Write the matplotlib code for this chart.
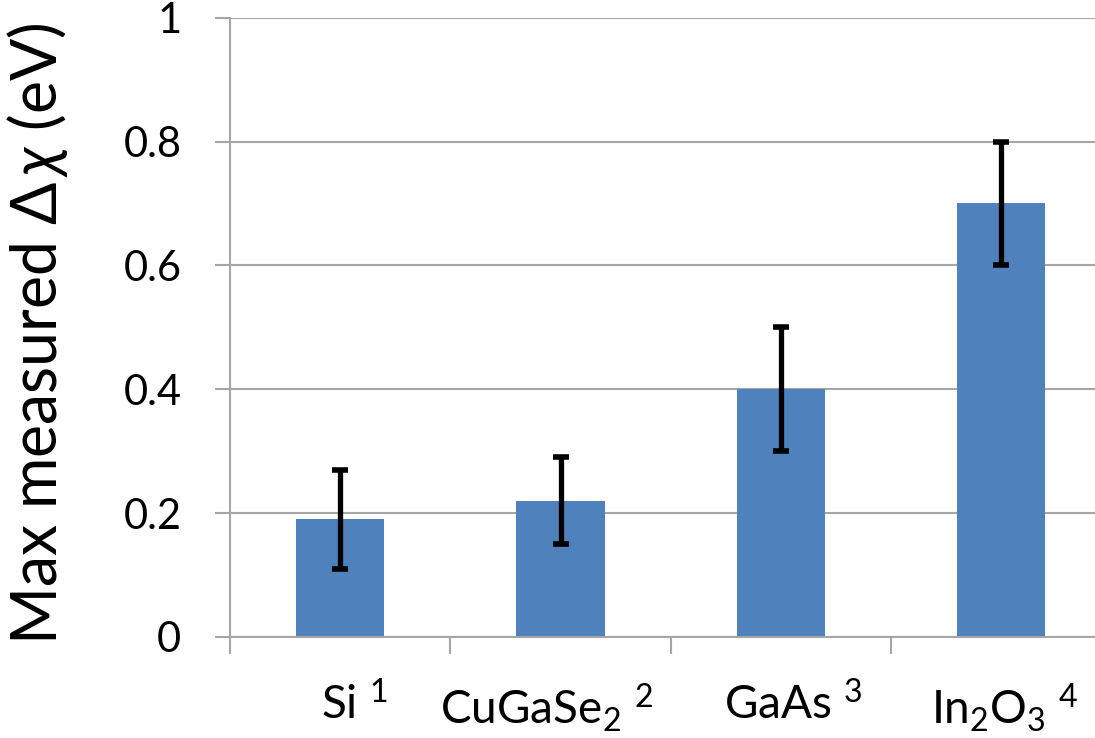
import matplotlib
matplotlib.use("Agg")
import matplotlib.pyplot as plt
import matplotlib.transforms as mtransforms
import numpy as np

plt.rcParams['font.family'] = ['Lato', 'DejaVu Sans']
plt.rcParams['mathtext.fontset'] = 'custom'
plt.rcParams['mathtext.rm'] = 'Lato'
plt.rcParams['mathtext.it'] = 'Lato:italic'

materials = ["Si $^{1}$", "CuGaSe$_{2}$ $^{2}$", "GaAs $^{3}$", "In$_{2}$O$_{3}$ $^{4}$"]
delta_chi = [0.19, 0.22, 0.40, 0.70]
errors = [0.08, 0.07, 0.10, 0.10]
yticks = [0, 0.2, 0.4, 0.6, 0.8, 1.0]
ytick_labels = ["0", "0.2", "0.4", "0.6", "0.8", "1"]

grid_color = '#a6a6a6'
bar_color = '#4f81bd'

fig = plt.figure(figsize=(10.95, 7.38), dpi=100)
ax = fig.add_axes([0.210, 0.137, 0.805, 0.839])

x = np.arange(len(materials))
ax.bar(x, delta_chi, width=0.4, color=bar_color, zorder=2)
ax.errorbar(x, delta_chi, yerr=errors, fmt='none', ecolor='k',
            elinewidth=3.8, capsize=5.6, capthick=4, zorder=3)

ax.set_xlim(-0.5, len(materials) - 0.5)
ax.set_ylim(0, 1)

# y axis
ax.set_yticks(yticks)
ax.set_yticklabels(ytick_labels)
ax.yaxis.grid(True, color=grid_color, linewidth=1.5, zorder=0)
ax.tick_params(axis='y', which='major', length=11, width=1.5, color=grid_color,
               pad=24, labelsize=30)

# x axis: ticks between categories, labels at the centers
ax.set_xticks(np.arange(-0.5, len(materials)), minor=False)
ax.set_xticklabels([])
ax.set_xticks(x, minor=True)
ax.set_xticklabels(materials, minor=True)
ax.tick_params(axis='x', which='major', length=12, width=1.5, color=grid_color)
ax.tick_params(axis='x', which='minor', length=0, pad=32, labelsize=33)

# small horizontal nudges of the category labels (as in the original)
nudges = [14, -14, 12, 4]
for lab, dx in zip(ax.get_xticklabels(minor=True), nudges):
    lab.set_transform(lab.get_transform() +
                      mtransforms.ScaledTranslation(dx / 100, 0, fig.dpi_scale_trans))

for side in ['top', 'right']:
    ax.spines[side].set_visible(False)
for side in ['left', 'bottom']:
    ax.spines[side].set_color(grid_color)
    ax.spines[side].set_linewidth(1.5)

ax.set_ylabel(r"Max measured $\Delta\,\chi$ (eV)", fontsize=45)
ax.yaxis.set_label_coords(-0.182, 0.49)

fig.savefig("out.png", dpi=100)
